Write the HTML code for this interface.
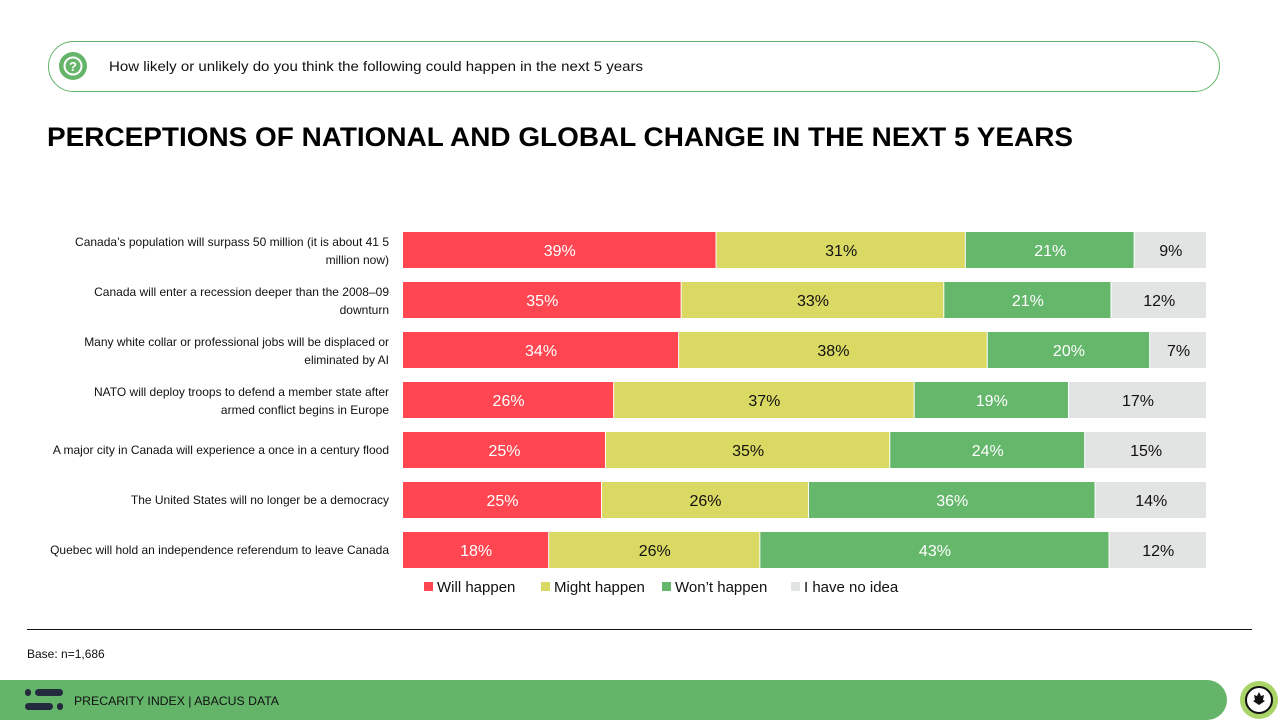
<!DOCTYPE html>
<html><head><meta charset="utf-8"><style>
html,body{margin:0;padding:0;background:#fff;}
svg{display:block;font-family:"Liberation Sans",sans-serif;}
</style></head><body>
<svg id="chart" width="1280" height="720" viewBox="0 0 1280 720">
  <rect x="48.5" y="41.5" width="1171" height="50" rx="25" fill="#fff" stroke="#64b46a" stroke-width="1"/>
  <circle cx="73" cy="66" r="14" fill="#64b46a"/>
  <circle cx="73" cy="66" r="8.5" fill="none" stroke="#fff" stroke-width="2"/>
  <text x="73" y="71" font-size="13" font-weight="bold" fill="#fff" text-anchor="middle">?</text>
  <text x="109" y="71" font-size="14" fill="#111" textLength="534" lengthAdjust="spacingAndGlyphs">How likely or unlikely do you think the following could happen in the next 5 years</text>
  <text x="47" y="146" font-size="27" font-weight="bold" fill="#000" textLength="1026" lengthAdjust="spacingAndGlyphs">PERCEPTIONS OF NATIONAL AND GLOBAL CHANGE IN THE NEXT 5 YEARS</text>
  <g id="bars"></g>
  <g id="labels"></g>
  <g id="legend"></g>
  <line x1="27" y1="629.5" x2="1252" y2="629.5" stroke="#111" stroke-width="1"/>
  <text x="27" y="658" font-size="12" fill="#111">Base: n=1,686</text>
  <path d="M0 680 H1207 A20 20 0 0 1 1207 720 H0 Z" fill="#64b46a"/>
  <rect x="25" y="689" width="6" height="7" rx="3" fill="#232a3d"/>
  <rect x="35" y="689" width="28" height="7" rx="3.5" fill="#232a3d"/>
  <rect x="25" y="703" width="28" height="7" rx="3.5" fill="#232a3d"/>
  <rect x="57" y="703" width="6" height="7" rx="3" fill="#232a3d"/>
  <text x="74" y="705" font-size="12" fill="#111" textLength="205" lengthAdjust="spacingAndGlyphs">PRECARITY INDEX  |  ABACUS DATA</text>
  <circle cx="1259" cy="700" r="19" fill="#a8d468"/>
  <circle cx="1259" cy="700" r="13" fill="#fff" stroke="#111" stroke-width="2"/>
  <path d="M1259 692 l2 4 l3 -1 l-1 5 l2 1 l-6 4 l-6 -4 l2 -1 l-1 -5 l3 1 z" fill="#111"/>
</svg>
<script>
const categories = [
  ["Canada\u2019s population will surpass 50 million (it is about 41 5","million now)"],
  ["Canada will enter a recession deeper than the 2008\u201309","downturn"],
  ["Many white collar or professional jobs will be displaced or","eliminated by AI"],
  ["NATO will deploy troops to defend a member state after","armed conflict begins in Europe"],
  ["A major city in Canada will experience a once in a century flood"],
  ["The United States will no longer be a democracy"],
  ["Quebec will hold an independence referendum to leave Canada"]
];
const seriesNames = ["Will happen","Might happen","Won\u2019t happen","I have no idea"];
const willHappen = [39,35,34,26,25,25,18];
const mightHappen = [31,33,38,37,35,26,26];
const wontHappen = [21,21,20,19,24,36,43];
const noIdea = [9,12,7,17,15,14,12];
const series = [willHappen, mightHappen, wontHappen, noIdea];
const colors = ["#ff4651","#dad963","#64b76b","#e2e3e3"];
const textColors = ["#fff","#111","#fff","#111"];
const NS = "http://www.w3.org/2000/svg";
const x0 = 403, plotW = 804, rowTop = 232, rowStep = 50, barH = 36;
function xScale(v, total){ return v / total * plotW; }
function yScale(i){ return rowTop + i * rowStep; }
const gB = document.getElementById('bars'), gL = document.getElementById('labels'), gG = document.getElementById('legend');
categories.forEach((cat, i) => {
  const total = series.reduce((s, arr) => s + arr[i], 0);
  let x = x0;
  series.forEach((arr, k) => {
    const w = xScale(arr[i], total);
    const r = document.createElementNS(NS, 'rect');
    r.setAttribute('x', x); r.setAttribute('y', yScale(i));
    r.setAttribute('width', Math.max(0, w - 1)); r.setAttribute('height', barH);
    r.setAttribute('fill', colors[k]);
    
    
    gB.appendChild(r);
    const t = document.createElementNS(NS, 'text');
    t.setAttribute('x', x + w / 2); t.setAttribute('y', yScale(i) + barH / 2 + 6);
    t.setAttribute('text-anchor', 'middle'); t.setAttribute('font-size', '16');
    t.setAttribute('fill', textColors[k]);
    t.textContent = arr[i] + '%';
    
    
    gB.appendChild(t);
    x += w;
  });
  const cy = yScale(i) + barH / 2;
  cat.forEach((line, j) => {
    const t = document.createElementNS(NS, 'text');
    t.setAttribute('x', 389);
    t.setAttribute('y', cy + 4 + (cat.length === 2 ? (j === 0 ? -8 : 10) : 0));
    t.setAttribute('text-anchor', 'end'); t.setAttribute('font-size', '12');
    t.setAttribute('fill', '#111');
    t.textContent = line;
    
    
    gL.appendChild(t);
  });
});
const legX = [424, 541, 662, 791];
seriesNames.forEach((n, k) => {
  const r = document.createElementNS(NS, 'rect');
  r.setAttribute('x', legX[k]); r.setAttribute('y', 582);
  r.setAttribute('width', 9); r.setAttribute('height', 9);
  r.setAttribute('fill', colors[k]);
  
  
  gG.appendChild(r);
  const t = document.createElementNS(NS, 'text');
  t.setAttribute('x', legX[k] + 13); t.setAttribute('y', 592);
  t.setAttribute('font-size', '15'); t.setAttribute('fill', '#111');
  t.textContent = n;
  
  
  gG.appendChild(t);
});
</script>
</body></html>
